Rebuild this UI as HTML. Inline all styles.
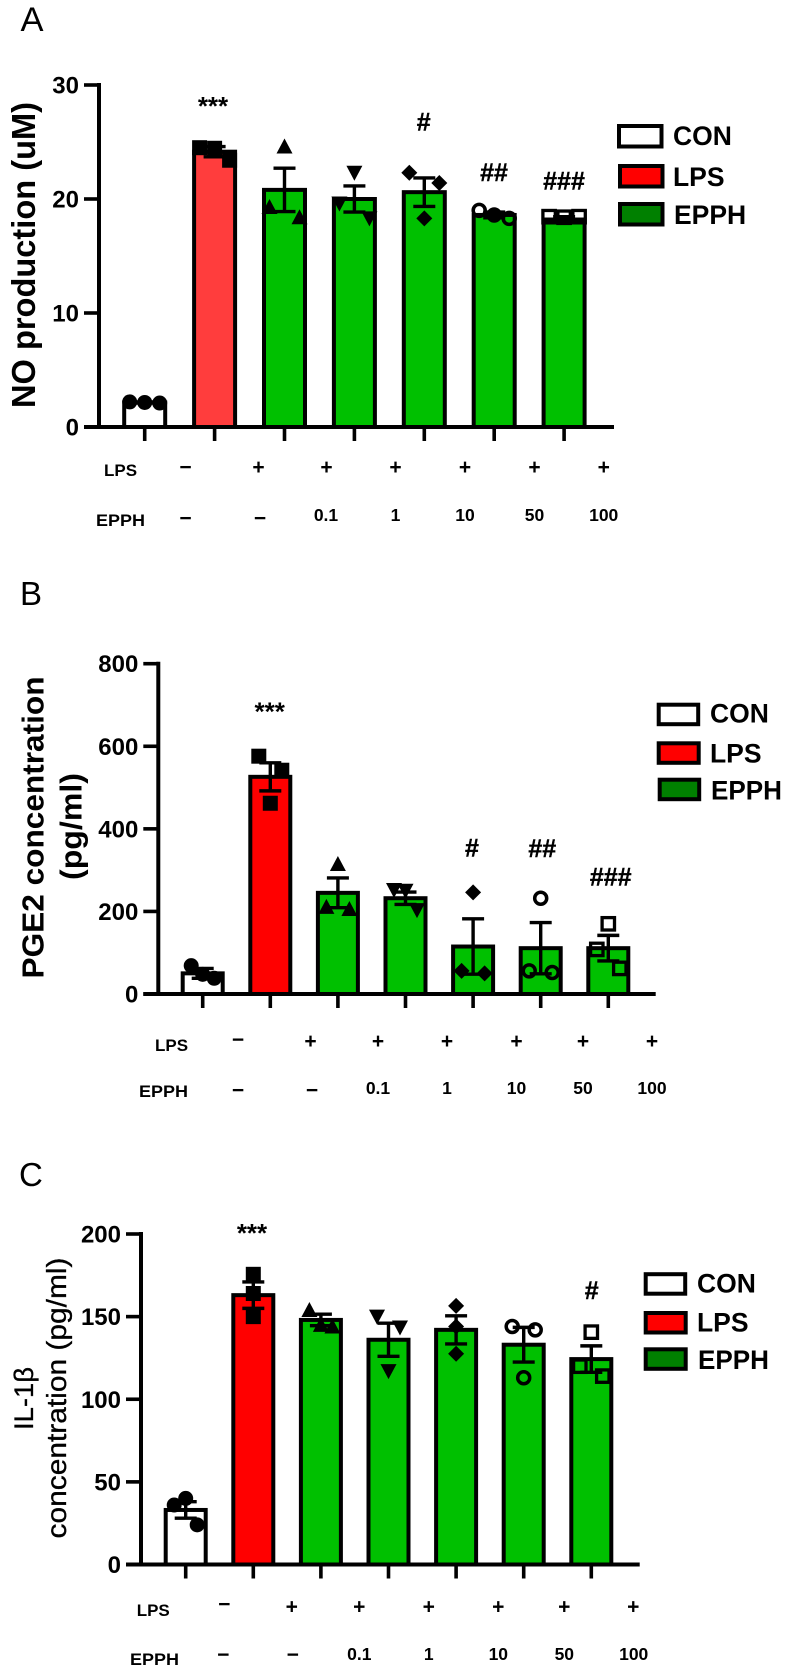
<!DOCTYPE html>
<html lang="en">
<head>
<meta charset="utf-8">
<title>NO, PGE2 and IL-1β production bar charts</title>
<style>
html,body{margin:0;padding:0;background:#fff;}
svg{display:block;filter:blur(0.35px);}
text{font-family:"Liberation Sans",sans-serif;fill:#000;}
.b{font-weight:bold;}
.row{font-weight:bold;font-size:17px;}
.sign{font-weight:bold;font-size:21px;text-anchor:middle;}
.num{font-weight:bold;font-size:17.5px;text-anchor:middle;}
.tick{font-weight:bold;font-size:24px;text-anchor:end;}
.leg{font-weight:bold;font-size:26.5px;}
.sig{font-weight:bold;font-size:25px;text-anchor:middle;stroke:#000;stroke-width:0.4;}
.star{font-weight:bold;font-size:26px;text-anchor:middle;}
.panel{font-size:33px;}
.semi{stroke:#000;stroke-width:0.3;}
.lr{stroke:#000;stroke-width:4;}
</style>
</head>
<body>
<svg id="figure" width="788" height="1672" viewBox="0 0 788 1672" xmlns="http://www.w3.org/2000/svg">
<rect x="0" y="0" width="788" height="1672" fill="#fff"/>

<!-- Panel A static text -->
<text class="panel" x="20.5" y="31" font-size="34" style="font-size:34.5px">A</text>
<text class="b" font-size="33" text-anchor="middle" textLength="306" lengthAdjust="spacingAndGlyphs" transform="translate(35,255) rotate(-90)">NO production (uM)</text>
<text class="star" x="213" y="115">***</text>
<text class="sig" x="423.7" y="130.5">#</text>
<text class="sig" x="494" y="181">##</text>
<text class="sig" x="564" y="189.5">###</text>
<g>
<rect class="lr" x="619" y="126" width="42.5" height="20.5" fill="#fff"/>
<rect class="lr" x="620" y="166" width="42.5" height="20.5" fill="#ff0000"/>
<rect class="lr" x="620" y="204" width="42.5" height="20.5" fill="#008000"/>
<text class="leg" x="673" y="145">CON</text>
<text class="leg" x="673" y="186">LPS</text>
<text class="leg" x="674" y="224">EPPH</text>
</g>
<g>
<text class="row" x="104" y="476">LPS</text>
<text class="sign" x="185.5" y="474">−</text>
<text class="sign" x="258.5" y="474">+</text>
<text class="sign" x="326.5" y="474">+</text>
<text class="sign" x="395.5" y="474">+</text>
<text class="sign" x="465" y="474">+</text>
<text class="sign" x="534.5" y="474">+</text>
<text class="sign" x="603.7" y="474">+</text>
<text class="row" x="96" y="526" textLength="49" lengthAdjust="spacingAndGlyphs">EPPH</text>
<text class="sign" x="185.5" y="525">−</text>
<text class="sign" x="260" y="525">−</text>
<text class="num" x="326" y="521">0.1</text>
<text class="num" x="395.5" y="521">1</text>
<text class="num" x="465" y="521">10</text>
<text class="num" x="534.5" y="521">50</text>
<text class="num" x="603.7" y="521">100</text>
</g>

<!-- Panel B static text -->
<text class="panel" x="20" y="605">B</text>
<text class="b" font-size="31" text-anchor="middle" textLength="302" lengthAdjust="spacingAndGlyphs" transform="translate(43.5,827.5) rotate(-90)">PGE2 concentration</text>
<text class="b" font-size="31" text-anchor="middle" textLength="107" lengthAdjust="spacingAndGlyphs" transform="translate(81.5,826.5) rotate(-90)">(pg/ml)</text>
<text class="star" x="269.7" y="720.5">***</text>
<text class="sig" x="472" y="856.5">#</text>
<text class="sig" x="542.3" y="857">##</text>
<text class="sig" x="610.7" y="885.5">###</text>
<g>
<rect class="lr" x="658.7" y="704.7" width="39.5" height="19.5" fill="#fff"/>
<rect class="lr" x="658.7" y="743.3" width="40" height="19.5" fill="#ff0000"/>
<rect class="lr" x="659.7" y="779.7" width="39.5" height="19.5" fill="#008000"/>
<text class="leg" x="710" y="722.5">CON</text>
<text class="leg" x="710" y="762.5">LPS</text>
<text class="leg" x="711" y="799.5" textLength="71" lengthAdjust="spacingAndGlyphs">EPPH</text>
</g>
<g>
<text class="row" x="155" y="1051">LPS</text>
<text class="sign" x="238" y="1046.5">−</text>
<text class="sign" x="310.5" y="1048">+</text>
<text class="sign" x="378" y="1048">+</text>
<text class="sign" x="447" y="1048">+</text>
<text class="sign" x="516.5" y="1048">+</text>
<text class="sign" x="583" y="1048">+</text>
<text class="sign" x="652" y="1048">+</text>
<text class="row" x="139" y="1097" textLength="49" lengthAdjust="spacingAndGlyphs">EPPH</text>
<text class="sign" x="238" y="1097">−</text>
<text class="sign" x="312" y="1097">−</text>
<text class="num" x="378" y="1094">0.1</text>
<text class="num" x="447" y="1094">1</text>
<text class="num" x="516.5" y="1094">10</text>
<text class="num" x="583" y="1094">50</text>
<text class="num" x="652" y="1094">100</text>
</g>

<!-- Panel C static text -->
<text class="panel" x="19" y="1186">C</text>
<text class="semi" font-size="27" text-anchor="middle" textLength="63" lengthAdjust="spacingAndGlyphs" transform="translate(33,1398.5) rotate(-90)">IL-1β</text>
<text class="semi" font-size="28" text-anchor="middle" textLength="281" lengthAdjust="spacingAndGlyphs" transform="translate(66,1398) rotate(-90)">concentration (pg/ml)</text>
<text class="star" x="252" y="1242">***</text>
<text class="sig" x="591.7" y="1299">#</text>
<g>
<rect class="lr" x="645.7" y="1274.2" width="39.5" height="19.5" fill="#fff"/>
<rect class="lr" x="645.7" y="1313" width="40" height="19.5" fill="#ff0000"/>
<rect class="lr" x="645.7" y="1349.3" width="40" height="19.5" fill="#008000"/>
<text class="leg" x="697" y="1292.3">CON</text>
<text class="leg" x="697" y="1331.7">LPS</text>
<text class="leg" x="698" y="1369" textLength="71" lengthAdjust="spacingAndGlyphs">EPPH</text>
</g>
<g>
<text class="row" x="136.7" y="1616">LPS</text>
<text class="sign" x="224.3" y="1611">−</text>
<text class="sign" x="291.7" y="1613.5">+</text>
<text class="sign" x="359.3" y="1613.5">+</text>
<text class="sign" x="428.7" y="1613.5">+</text>
<text class="sign" x="498.3" y="1613.5">+</text>
<text class="sign" x="564.3" y="1613.5">+</text>
<text class="sign" x="633.3" y="1613.5">+</text>
<text class="row" x="130" y="1665" textLength="49" lengthAdjust="spacingAndGlyphs">EPPH</text>
<text class="sign" x="223.3" y="1661.5">−</text>
<text class="sign" x="292.7" y="1661.5">−</text>
<text class="num" x="359.3" y="1660">0.1</text>
<text class="num" x="428.7" y="1660">1</text>
<text class="num" x="498.3" y="1660">10</text>
<text class="num" x="564.3" y="1660">50</text>
<text class="num" x="633.7" y="1660">100</text>
</g>
</svg>

<script>
// ---------- Data ----------
const groupNames = ['con', 'lps', 'epph-vehicle', 'epph-0-1', 'epph-1', 'epph-10', 'epph-50'];
const symbols = ['circle', 'square', 'triangle-up', 'triangle-down', 'diamond', 'open-circle', 'open-square'];

const panelATicks = [0, 10, 20, 30];
const panelAMeans = [2.15, 24.15, 20.8, 20.0, 20.6, 18.6, 18.2];
const panelASems = [0.05, 0.45, 1.9, 1.15, 1.25, 0.25, 0.25];
const panelAPoints = [
  [2.2, 2.15, 2.1],
  [24.5, 24.45, 23.4],
  [19.3, 24.6, 18.4],
  [19.6, 22.3, 18.3],
  [22.3, 18.3, 21.4],
  [19.0, 18.6, 18.3],
  [18.45, 18.4, 18.45]
];
const panelASpread = [
  [-1, 0, 1], [-1, 0, 1], [-1, 0, 1], [-1, 0, 1], [-1, 0, 1], [-1, 0, 1], [-1, 0, 1]
];

const panelBTicks = [0, 200, 400, 600, 800];
const panelBMeans = [50, 526, 245, 232, 115, 111, 111];
const panelBSems = [12, 34, 36, 15, 67, 62, 31];
const panelBPoints = [
  [68.6, 47.6, 38],
  [576, 462, 542],
  [211, 315, 206],
  [252, 250, 203],
  [56, 246, 50],
  [56, 232, 52],
  [108, 170, 62]
];
const panelBSpread = [
  [-1, 0, 1], [-1, 0, 1], [-1, 0, 1], [-1, 0, 1], [-1, 0, 1], [-1, 0, 1], [-1, 0, 1]
];

const panelCTicks = [0, 50, 100, 150, 200];
const panelCMeans = [33, 163, 148, 136, 142, 133, 124.3];
const panelCSems = [5, 8, 3.5, 10, 8.5, 10.5, 8];
const panelCPoints = [
  [36, 40, 24],
  [175.6, 164, 150],
  [154, 145, 144],
  [150, 117, 143.4],
  [156.5, 144, 127.5],
  [144, 113, 142],
  [120, 140.6, 114]
];
const panelCSpread = [
  [-1, 0, 1], [0, 0, 0], [-1, 0, 1], [-1, 0, 1], [0, 0, 0], [-1, 0, 1], [-1, 0, 1]
];

// ---------- Drawing ----------
const svg = document.getElementById('figure');
const NS = 'http://www.w3.org/2000/svg';

function mk(tag, parent, attrs) {
  const el = document.createElementNS(NS, tag);
  for (const k in attrs) el.setAttribute(k, attrs[k]);
  parent.appendChild(el);
  return el;
}

function drawMarker(parent, kind, x, y, id) {
  const r = 7.5;
  const t = 8;
  let el;
  if (kind === 'circle') {
    el = mk('circle', parent, { cx: x, cy: y, r: r, fill: '#000' });
  } else if (kind === 'square') {
    el = mk('rect', parent, { x: x - r, y: y - r, width: 2 * r, height: 2 * r, fill: '#000' });
  } else if (kind === 'triangle-up') {
    el = mk('polygon', parent, { points: (x - t) + ',' + (y + 7) + ' ' + (x + t) + ',' + (y + 7) + ' ' + x + ',' + (y - t), fill: '#000' });
  } else if (kind === 'triangle-down') {
    el = mk('polygon', parent, { points: (x - t) + ',' + (y - 7) + ' ' + (x + t) + ',' + (y - 7) + ' ' + x + ',' + (y + t), fill: '#000' });
  } else if (kind === 'diamond') {
    el = mk('polygon', parent, { points: (x - t) + ',' + y + ' ' + x + ',' + (y - t) + ' ' + (x + t) + ',' + y + ' ' + x + ',' + (y + t), fill: '#000' });
  } else if (kind === 'open-circle') {
    el = mk('circle', parent, { cx: x, cy: y, r: 6, fill: 'none', stroke: '#000', 'stroke-width': 3.5 });
  } else {
    el = mk('rect', parent, { x: x - 6.2, y: y - 6.2, width: 12.4, height: 12.4, fill: 'none', stroke: '#000', 'stroke-width': 3.3 });
  }
  
  
}

function drawPanel(p, ticks, means, sems, points, spreads) {
  const g = mk('g', svg, {});
  
  

  const yMax = ticks[ticks.length - 1];
  const yScale = v => p.yZero - (v / yMax) * (p.yZero - p.yTop);
  const xScale = i => p.xFirst + i * p.xStep;
  const colors = ['#ffffff', p.red, '#00c000', '#00c000', '#00c000', '#00c000', '#00c000'];

  // bars
  means.forEach((m, i) => {
    const half = p.barWidth / 2;
    const bar = mk('rect', g, {
      x: xScale(i) - half, y: yScale(m),
      width: p.barWidth, height: p.yZero - yScale(m),
      fill: colors[i], stroke: '#000', 'stroke-width': 4
    });
    
    
  });

  // axes
  const yAxis = mk('line', g, { x1: p.xAxis, x2: p.xAxis, y1: yScale(yMax) - 2, y2: p.yZero + 2, stroke: '#000', 'stroke-width': 4 });
  
  
  const xAxis = mk('line', g, { x1: p.xAxis - 15, x2: p.xEnd, y1: p.yZero, y2: p.yZero, stroke: '#000', 'stroke-width': 4 });
  
  

  // y ticks
  ticks.forEach(t => {
    const ln = mk('line', g, { x1: p.xAxis - 15, x2: p.xAxis, y1: yScale(t), y2: yScale(t), stroke: '#000', 'stroke-width': 3.6 });
    
    
    const label = mk('text', g, { x: p.xAxis - 20, y: yScale(t) + 8.5, class: 'tick' });
    label.textContent = String(t);
    
    
  });

  // x ticks
  means.forEach((m, i) => {
    const ln = mk('line', g, { x1: xScale(i), x2: xScale(i), y1: p.yZero, y2: p.yZero + 14, stroke: '#000', 'stroke-width': 3.6 });
    
    
  });

  // error bars
  sems.forEach((s, i) => {
    const cx = xScale(i);
    const top = yScale(means[i] + s);
    const bottom = yScale(means[i] - s);
    const eb = mk('path', g, {
      d: 'M' + cx + ' ' + top + 'V' + bottom +
         'M' + (cx - 11) + ' ' + top + 'H' + (cx + 11) +
         'M' + (cx - 11) + ' ' + bottom + 'H' + (cx + 11),
      fill: 'none', stroke: '#000', 'stroke-width': 3.4
    });
    
    
  });

  // data points
  points.forEach((set, i) => {
    set.forEach((v, j) => {
      drawMarker(g, symbols[i], xScale(i) + spreads[i][j] * p.spread, yScale(v), 'point-' + groupNames[i]);
    });
  });
}

drawPanel(
  { id: 'no-production', xAxis: 99, xEnd: 614, yZero: 427, yTop: 85, xFirst: 144.7, xStep: 69.9, barWidth: 41, spread: 15, red: '#ff3d3d' },
  panelATicks, panelAMeans, panelASems, panelAPoints, panelASpread
);
drawPanel(
  { id: 'pge2-concentration', xAxis: 158.3, xEnd: 655.7, yZero: 994, yTop: 663.7, xFirst: 202.7, xStep: 67.6, barWidth: 40, spread: 11.5, red: '#ff0000' },
  panelBTicks, panelBMeans, panelBSems, panelBPoints, panelBSpread
);
drawPanel(
  { id: 'il-1b-concentration', xAxis: 141, xEnd: 639.7, yZero: 1564.5, yTop: 1234, xFirst: 185.7, xStep: 67.6, barWidth: 40, spread: 11.5, red: '#ff0000' },
  panelCTicks, panelCMeans, panelCSems, panelCPoints, panelCSpread
);
</script>
</body>
</html>
